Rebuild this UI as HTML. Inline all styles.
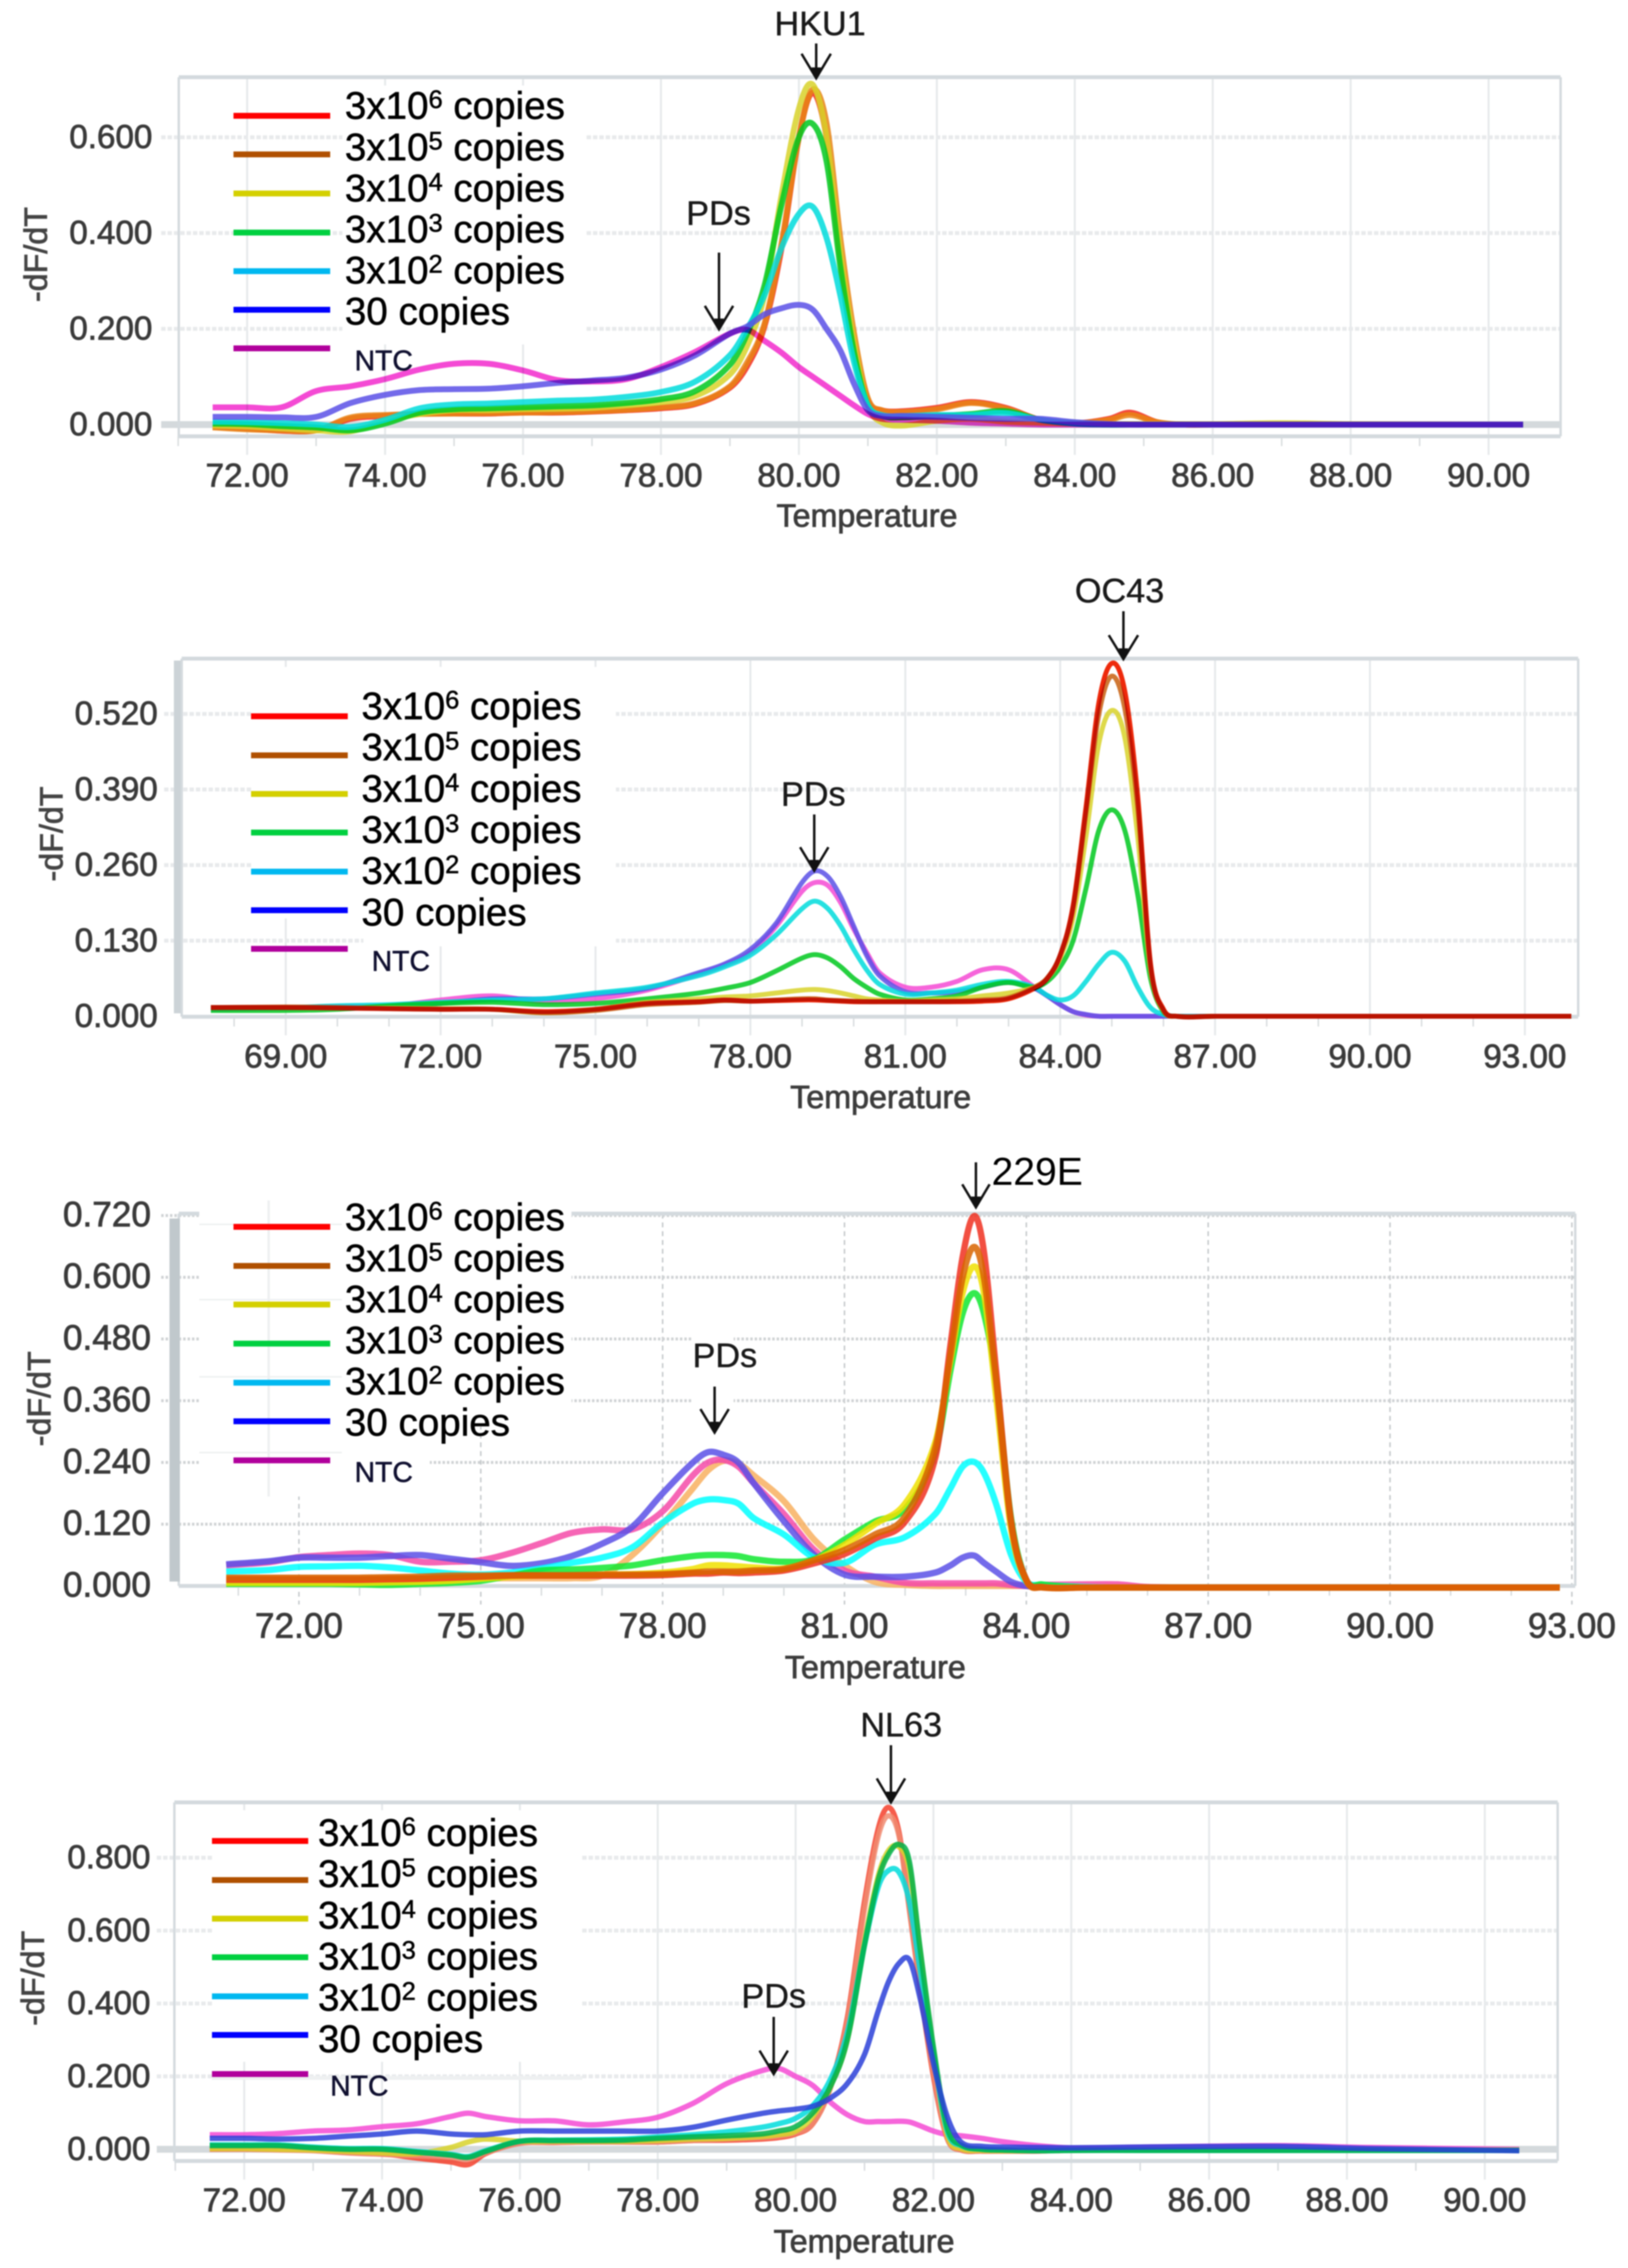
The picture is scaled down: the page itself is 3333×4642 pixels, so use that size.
<!DOCTYPE html>
<html lang="en">
<head>
<meta charset="utf-8">
<title>Melting curves HKU1 OC43 229E NL63</title>
<style>
html,body{margin:0;padding:0;background:#fff}
svg{display:block;filter:blur(1.4px)}
text{font-family:"Liberation Sans",sans-serif}
.leg{font-size:79px;fill:#000;stroke:#000;stroke-width:1px}
.ntc{font-size:58px;fill:#101030;stroke:#101030;stroke-width:1px}
.ann{font-size:70px;fill:#1a1a1a;stroke:#1a1a1a;stroke-width:.8px}
.ylab{font-size:66px;fill:#444;stroke:#444;stroke-width:1.5px;text-anchor:middle}
.xlab{font-size:66px;fill:#3c3c3c;stroke:#3c3c3c;stroke-width:1.5px;text-anchor:middle}
.arrow{fill:none;stroke:#111;stroke-width:5}
</style>
</head>
<body>
<svg id="figure" xmlns="http://www.w3.org/2000/svg" width="3333" height="4642" viewBox="0 0 3333 4642">
<rect x="0" y="0" width="3333" height="4642" fill="#fff"/>

<!-- PANEL 1 -->
<g id="p1">
<g id="p1-axes"></g>
<rect x="701" y="175" width="496" height="530" fill="#fff"/>
<text class="ylab" transform="translate(96,521) rotate(-90)">-dF/dT</text>
<text class="xlab" x="1775" y="1078">Temperature</text>
<g id="p1-curves"></g>
<g>
<line x1="478" x2="676" y1="237" y2="237" stroke="#ff0000" stroke-width="12"/>
<line x1="478" x2="676" y1="316" y2="316" stroke="#b05000" stroke-width="12"/>
<line x1="478" x2="676" y1="396" y2="396" stroke="#d4d000" stroke-width="12"/>
<line x1="478" x2="676" y1="476" y2="476" stroke="#00d040" stroke-width="12"/>
<line x1="478" x2="676" y1="555" y2="555" stroke="#00b8f0" stroke-width="12"/>
<line x1="478" x2="676" y1="634" y2="634" stroke="#0000ff" stroke-width="12"/>
<line x1="478" x2="676" y1="713" y2="713" stroke="#b0009c" stroke-width="12"/>
<text class="leg" x="706" y="243">3x10<tspan font-size="52" dy="-22">6</tspan><tspan dy="22"> copies</tspan></text>
<text class="leg" x="706" y="328">3x10<tspan font-size="52" dy="-22">5</tspan><tspan dy="22"> copies</tspan></text>
<text class="leg" x="706" y="412">3x10<tspan font-size="52" dy="-22">4</tspan><tspan dy="22"> copies</tspan></text>
<text class="leg" x="706" y="496">3x10<tspan font-size="52" dy="-22">3</tspan><tspan dy="22"> copies</tspan></text>
<text class="leg" x="706" y="580">3x10<tspan font-size="52" dy="-22">2</tspan><tspan dy="22"> copies</tspan></text>
<text class="leg" x="706" y="664">30 copies</text>
<text class="ntc" x="726" y="758">NTC</text>
</g>
<text class="ann" x="1679" y="72" text-anchor="middle">HKU1</text>
<path class="arrow" d="M1671 89V160M1641 110L1671 160L1701 110"/>
<path d="M1661 138L1671 160L1681 138Z" fill="#111"/>
<text class="ann" x="1471" y="460" text-anchor="middle">PDs</text>
<path class="arrow" d="M1472 517V674M1443 626L1472 674L1501 626"/>
<path d="M1462 652L1472 674L1482 652Z" fill="#111"/>
</g>

<!-- PANEL 2 -->
<g id="p2">
<g id="p2-axes"></g>
<rect x="356" y="1352" width="14" height="722" fill="#ccd3d7"/>
<rect x="515" y="1365" width="746" height="515" fill="#fff"/>
<rect x="744" y="1880" width="517" height="57" fill="#fff"/>
<text class="ylab" transform="translate(128,1707) rotate(-90)">-dF/dT</text>
<text class="xlab" x="1803" y="2268">Temperature</text>
<g id="p2-curves"></g>
<g>
<line x1="514" x2="712" y1="1466" y2="1466" stroke="#ff0000" stroke-width="12"/>
<line x1="514" x2="712" y1="1546" y2="1546" stroke="#b05000" stroke-width="12"/>
<line x1="514" x2="712" y1="1625" y2="1625" stroke="#d4d000" stroke-width="12"/>
<line x1="514" x2="712" y1="1704" y2="1704" stroke="#00d040" stroke-width="12"/>
<line x1="514" x2="712" y1="1784" y2="1784" stroke="#00b8f0" stroke-width="12"/>
<line x1="514" x2="712" y1="1863" y2="1863" stroke="#0000ff" stroke-width="12"/>
<line x1="514" x2="712" y1="1942" y2="1942" stroke="#b0009c" stroke-width="12"/>
<text class="leg" x="740" y="1472">3x10<tspan font-size="52" dy="-22">6</tspan><tspan dy="22"> copies</tspan></text>
<text class="leg" x="740" y="1556">3x10<tspan font-size="52" dy="-22">5</tspan><tspan dy="22"> copies</tspan></text>
<text class="leg" x="740" y="1641">3x10<tspan font-size="52" dy="-22">4</tspan><tspan dy="22"> copies</tspan></text>
<text class="leg" x="740" y="1725">3x10<tspan font-size="52" dy="-22">3</tspan><tspan dy="22"> copies</tspan></text>
<text class="leg" x="740" y="1809">3x10<tspan font-size="52" dy="-22">2</tspan><tspan dy="22"> copies</tspan></text>
<text class="leg" x="740" y="1894">30 copies</text>
<text class="ntc" x="761" y="1987">NTC</text>
</g>
<text class="ann" x="2292" y="1233" text-anchor="middle">OC43</text>
<path class="arrow" d="M2300 1251V1349M2270 1300L2300 1349L2330 1300"/>
<path d="M2290 1327L2300 1349L2310 1327Z" fill="#111"/>
<text class="ann" x="1665" y="1649" text-anchor="middle">PDs</text>
<path class="arrow" d="M1667 1667V1782M1638 1734L1667 1782L1696 1734"/>
<path d="M1657 1760L1667 1782L1677 1760Z" fill="#111"/>
</g>

<!-- PANEL 3 -->
<g id="p3">
<g id="p3-axes"></g>
<rect x="347" y="2494" width="21" height="743" fill="#c0c8cc"/>
<rect x="408" y="2457" width="762" height="463" fill="#fff"/>
<rect x="408" y="2920" width="472" height="143" fill="#fff"/>
<rect x="1416" y="2700" width="86" height="240" fill="#fff"/>
<line x1="550" x2="550" y1="2457" y2="3063" stroke="#eef0f1" stroke-width="5"/>
<line x1="408" x2="700" y1="2506" y2="2506" stroke="#eef0f1" stroke-width="3"/>
<line x1="408" x2="700" y1="2660" y2="2660" stroke="#eef0f1" stroke-width="3"/>
<line x1="408" x2="700" y1="2818" y2="2818" stroke="#eef0f1" stroke-width="3"/>
<line x1="408" x2="700" y1="2973" y2="2973" stroke="#eef0f1" stroke-width="3"/>
<text class="ylab" transform="translate(103,2863) rotate(-90)">-dF/dT</text>
<text class="xlab" x="1792" y="3435" font-size="68">Temperature</text>
<g id="p3-curves"></g>
<g>
<line x1="478" x2="676" y1="2511" y2="2511" stroke="#ff0000" stroke-width="12"/>
<line x1="478" x2="676" y1="2591" y2="2591" stroke="#b05000" stroke-width="12"/>
<line x1="478" x2="676" y1="2670" y2="2670" stroke="#d4d000" stroke-width="12"/>
<line x1="478" x2="676" y1="2750" y2="2750" stroke="#00d040" stroke-width="12"/>
<line x1="478" x2="676" y1="2830" y2="2830" stroke="#00b8f0" stroke-width="12"/>
<line x1="478" x2="676" y1="2909" y2="2909" stroke="#0000ff" stroke-width="12"/>
<line x1="478" x2="676" y1="2989" y2="2989" stroke="#b0009c" stroke-width="12"/>
<text class="leg" x="706" y="2518">3x10<tspan font-size="52" dy="-22">6</tspan><tspan dy="22"> copies</tspan></text>
<text class="leg" x="706" y="2602">3x10<tspan font-size="52" dy="-22">5</tspan><tspan dy="22"> copies</tspan></text>
<text class="leg" x="706" y="2686">3x10<tspan font-size="52" dy="-22">4</tspan><tspan dy="22"> copies</tspan></text>
<text class="leg" x="706" y="2770">3x10<tspan font-size="52" dy="-22">3</tspan><tspan dy="22"> copies</tspan></text>
<text class="leg" x="706" y="2854">3x10<tspan font-size="52" dy="-22">2</tspan><tspan dy="22"> copies</tspan></text>
<text class="leg" x="706" y="2938">30 copies</text>
<text class="ntc" x="726" y="3033">NTC</text>
</g>
<text x="2030" y="2425" font-size="80" fill="#000">229E</text>
<path class="arrow" d="M1998 2379V2471M1970 2424L1998 2471L2026 2424"/>
<path d="M1988 2449L1998 2471L2008 2449Z" fill="#111"/>
<text class="ann" x="1484" y="2798" text-anchor="middle">PDs</text>
<path class="arrow" d="M1463 2838V2932M1434 2884L1463 2932L1492 2884"/>
<path d="M1453 2910L1463 2932L1473 2910Z" fill="#111"/>
</g>

<!-- PANEL 4 -->
<g id="p4">
<g id="p4-axes"></g>
<rect x="434" y="3705" width="758" height="515" fill="#fff"/>
<line x1="434" x2="1192" y1="4253" y2="4253" stroke="#eef0f1" stroke-width="8"/>
<text class="ylab" transform="translate(90,4049) rotate(-90)">-dF/dT</text>
<text class="xlab" x="1769" y="4610">Temperature</text>
<g id="p4-curves"></g>
<g>
<line x1="434" x2="631" y1="3768" y2="3768" stroke="#ff0000" stroke-width="12"/>
<line x1="434" x2="631" y1="3848" y2="3848" stroke="#b05000" stroke-width="12"/>
<line x1="434" x2="631" y1="3927" y2="3927" stroke="#d4d000" stroke-width="12"/>
<line x1="434" x2="631" y1="4006" y2="4006" stroke="#00d040" stroke-width="12"/>
<line x1="434" x2="631" y1="4086" y2="4086" stroke="#00b8f0" stroke-width="12"/>
<line x1="434" x2="631" y1="4165" y2="4165" stroke="#0000ff" stroke-width="12"/>
<line x1="434" x2="631" y1="4245" y2="4245" stroke="#b0009c" stroke-width="12"/>
<text class="leg" x="651" y="3778">3x10<tspan font-size="52" dy="-22">6</tspan><tspan dy="22"> copies</tspan></text>
<text class="leg" x="651" y="3862">3x10<tspan font-size="52" dy="-22">5</tspan><tspan dy="22"> copies</tspan></text>
<text class="leg" x="651" y="3947">3x10<tspan font-size="52" dy="-22">4</tspan><tspan dy="22"> copies</tspan></text>
<text class="leg" x="651" y="4031">3x10<tspan font-size="52" dy="-22">3</tspan><tspan dy="22"> copies</tspan></text>
<text class="leg" x="651" y="4115">3x10<tspan font-size="52" dy="-22">2</tspan><tspan dy="22"> copies</tspan></text>
<text class="leg" x="651" y="4200">30 copies</text>
<text class="ntc" x="676" y="4289">NTC</text>
</g>
<text class="ann" x="1845" y="3554" text-anchor="middle">NL63</text>
<path class="arrow" d="M1824 3572V3689M1795 3640L1824 3689L1853 3640"/>
<path d="M1814 3667L1824 3689L1834 3667Z" fill="#111"/>
<text class="ann" x="1584" y="4109" text-anchor="middle">PDs</text>
<path class="arrow" d="M1584 4128V4245M1555 4197L1584 4245L1613 4197"/>
<path d="M1574 4223L1584 4245L1594 4223Z" fill="#111"/>
</g>
</svg>

<script>
// ---------- HKU1 data ----------
const hku1Temps = [71.5,72,72.5,73,73.5,74,74.5,75,75.5,76,
  76.5,77,77.5,78,78.5,79,79.25,79.5,79.75,80,
  80.2,80.4,80.6,80.8,81,81.2,81.5,82,82.5,83,
  83.5,84,84.5,84.8,85.2,85.6,86,87,88,90.5];
const hku1Red = [-.004,-.008,-.013,-.012,.012,.018,.023,.023,.023,.025,
  .025,.027,.03,.034,.043,.077,.122,.205,.37,.6,
  .693,.6,.353,.17,.05,.03,.028,.035,.047,.035,
  .01,.003,.012,.025,.005,0,0,0,0,0];
const hku1Brown = [-.006,-.01,-.012,-.012,.015,.02,.022,.023,.024,.025,
  .026,.028,.031,.036,.045,.08,.13,.21,.38,.6,
  .70,.63,.39,.19,.055,.03,.026,.032,.045,.033,
  .01,.003,.01,.02,.005,0,0,0,0,0];
const hku1Yellow = [-.002,-.004,-.008,-.012,-.014,.008,.022,.03,.03,.032,
  .033,.035,.04,.047,.06,.105,.165,.27,.48,.66,
  .71,.6,.36,.17,.04,.005,-.002,.008,.012,.006,
  .004,.002,.001,.001,.001,.001,.001,.003,.001,0];
const hku1Green = [.002,.001,-.003,-.006,-.012,.002,.025,.032,.034,.036,
  .038,.04,.045,.053,.07,.125,.19,.29,.46,.6,
  .628,.55,.33,.15,.04,.018,.015,.018,.022,.028,
  .01,.003,0,0,0,0,0,0,0,0];
const hku1Cyan = [.006,.005,.003,0,-.005,.01,.034,.042,.044,.047,
  .05,.052,.058,.068,.09,.145,.2,.27,.37,.44,
  .455,.39,.27,.13,.04,.02,.018,.02,.02,.024,
  .01,.002,0,0,0,0,0,0,0,0];
const hku1Blue = [.016,.016,.015,.016,.045,.062,.072,.074,.075,.08,
  .087,.092,.098,.115,.145,.19,.205,.23,.243,.25,
  .24,.2,.155,.085,.03,.018,.018,.016,.014,.012,
  .012,.005,.001,0,0,0,0,0,0,0];
const hku1Ntc = [.036,.036,.036,.07,.08,.095,.115,.127,.127,.113,
  .093,.09,.095,.12,.152,.19,.198,.175,.15,.12,
  .1,.08,.06,.04,.022,.012,.01,.008,.004,.002,
  0,0,0,0,0,0,0,0,0,0];
const hku1XTicks = [72,74,76,78,80,82,84,86,88,90];
const hku1YTicks = [0,.2,.4,.6];

// ---------- OC43 data ----------
const oc43Temps = [67.55,69,70,71,72,73,74,75,76,77,
  77.5,78,78.5,79,79.25,79.5,79.75,80,80.25,80.5,
  81,81.5,82,82.5,83,83.5,83.75,84,84.25,84.5,
  84.75,85,85.25,85.5,85.75,86,86.25,87,90,93.9];
const oc43Red = [.015,.015,.014,.013,.012,.012,.008,.012,.022,.025,
  .028,.026,.027,.028,.028,.027,.026,.025,.025,.025,
  .025,.025,.025,.026,.03,.048,.065,.105,.19,.36,
  .54,.607,.56,.38,.09,.012,0,0,0,0];
const oc43Brown = [.015,.016,.015,.013,.012,.012,.006,.01,.02,.024,
  .027,.026,.028,.03,.03,.028,.027,.026,.025,.025,
  .025,.025,.026,.028,.032,.05,.066,.105,.185,.35,
  .52,.585,.53,.36,.085,.01,0,0,0,0];
const oc43Yellow = [.015,.015,.014,.014,.013,.012,.006,.012,.024,.03,
  .033,.035,.04,.045,.046,.044,.04,.035,.03,.028,
  .026,.028,.03,.035,.04,.05,.065,.1,.17,.31,
  .47,.526,.48,.31,.08,.01,0,0,0,0];
const oc43Green = [.01,.01,.012,.018,.022,.024,.02,.022,.03,.04,
  .048,.058,.078,.1,.106,.1,.085,.065,.05,.038,
  .028,.03,.035,.05,.058,.05,.06,.085,.13,.22,
  .32,.355,.32,.21,.065,.008,0,0,0,0];
const oc43Cyan = [.015,.015,.018,.02,.024,.028,.03,.04,.05,.07,
  .085,.105,.14,.185,.198,.185,.155,.115,.08,.055,
  .038,.04,.045,.055,.06,.05,.036,.028,.035,.06,
  .09,.11,.095,.05,.015,.003,0,0,0,0];
const oc43Blue = [.012,.014,.015,.016,.022,.03,.03,.038,.048,.075,
  .09,.115,.16,.23,.25,.24,.205,.155,.105,.07,
  .042,.04,.042,.05,.058,.048,.035,.02,.008,.003,
  0,0,0,0,0,0,0,0,0,0];
const oc43Ntc = [.015,.015,.017,.018,.028,.035,.025,.03,.045,.072,
  .088,.11,.155,.215,.23,.225,.195,.15,.11,.075,
  .05,.05,.06,.08,.08,.05,.035,.02,.008,.002,
  0,0,0,0,0,0,0,0,0,0];
const oc43XTicks = [69,72,75,78,81,84,87,90,93];
const oc43YTicks = [0,.13,.26,.39,.52];

// ---------- 229E data ----------
const e229Temps = [70.8,71.5,72,72.5,73,73.5,74,74.5,75,75.5,
  76,76.5,77,77.5,78,78.5,78.75,79,79.25,79.5,
  80,80.5,81,81.5,82,82.5,82.75,82.95,83.14,83.3,
  83.5,83.75,84,84.25,85,85.5,86,87,90,92.8];
const e229Red = [.012,.012,.012,.012,.012,.013,.014,.016,.018,.02,
  .02,.02,.02,.02,.021,.024,.024,.026,.025,.026,
  .03,.044,.062,.092,.125,.25,.47,.64,.719,.65,
  .42,.125,.012,-.002,-.003,-.003,-.003,-.003,-.003,-.003];
const e229Brown = [.016,.016,.016,.016,.016,.017,.018,.02,.02,.021,
  .021,.021,.022,.022,.023,.026,.028,.028,.028,.03,
  .033,.05,.07,.1,.135,.27,.45,.6,.659,.6,
  .4,.12,.01,-.003,-.003,-.003,-.003,-.003,-.003,-.003];
const e229Yellow = [.006,.006,.006,.006,.006,.007,.008,.01,.014,.018,
  .02,.02,.022,.023,.026,.033,.04,.04,.038,.036,
  .034,.05,.08,.12,.16,.28,.44,.57,.621,.57,
  .37,.11,.01,-.002,-.003,-.003,-.003,-.003,-.003,-.003];
const e229Green = [.004,.004,.004,.004,.003,.002,.004,.006,.01,.02,
  .03,.032,.035,.04,.05,.058,.06,.06,.058,.052,
  .047,.052,.09,.125,.15,.26,.42,.53,.569,.53,
  .4,.13,.012,.003,-.003,-.003,-.003,-.003,-.003,-.003];
const e229Cyan = [.028,.031,.037,.038,.039,.036,.03,.024,.022,.026,
  .034,.045,.055,.075,.123,.16,.168,.167,.16,.132,
  .1,.055,.045,.08,.095,.14,.19,.232,.241,.22,
  .16,.06,.008,.002,-.002,-.003,-.003,-.003,-.003,-.003];
const e229Blue = [.042,.048,.055,.055,.055,.058,.06,.053,.046,.039,
  .044,.058,.082,.115,.18,.24,.26,.255,.24,.2,
  .126,.06,.022,.018,.018,.026,.04,.055,.059,.045,
  .028,.008,0,-.002,-.003,-.003,-.003,-.003,-.003,-.003];
const e229Ntc = [.04,.046,.056,.06,.063,.06,.047,.047,.05,.064,
  .083,.103,.11,.11,.145,.215,.24,.245,.232,.2,
  .14,.07,.03,.018,.006,.005,.005,.005,.005,.005,
  .005,.002,0,.002,.003,.003,-.002,-.003,-.003,-.003];
const e229Replicate = [.015,.015,.015,.015,.015,.015,.015,.015,.015,.015,
  .015,.015,.02,.06,.12,.19,.225,.243,.238,.215,
  .165,.09,.04,.008,.002,0,0,0,0,0,
  0,0,0,-.002,-.003,-.003,-.003,-.003,-.003,-.003];
const e229XTicks = [72,75,78,81,84,87,90,93];
const e229YTicks = [0,.12,.24,.36,.48,.6,.72];

// ---------- NL63 data ----------
const nl63Temps = [71.5,72,72.5,73,73.5,74,74.5,75,75.25,75.5,
  76,76.5,77,77.5,78,78.5,79,79.5,79.75,80,
  80.25,80.5,80.75,81,81.2,81.35,81.5,81.65,81.8,82,
  82.2,82.4,82.7,83,83.5,84,85,87,88.3,90.5];
const nl63Red = [0,0,0,-.002,-.008,-.012,-.024,-.035,-.042,-.012,
  .018,.02,.02,.02,.02,.024,.025,.028,.032,.042,
  .07,.17,.36,.68,.88,.938,.87,.66,.45,.2,
  .03,-.002,-.005,-.005,-.005,-.002,-.002,-.002,-.002,-.002];
const nl63Brown = [0,0,-.002,-.004,-.01,-.014,-.018,-.022,-.028,-.01,
  .016,.018,.02,.02,.02,.024,.028,.032,.036,.045,
  .07,.165,.35,.66,.86,.915,.86,.66,.46,.21,
  .03,-.002,-.005,-.005,-.005,-.003,-.002,-.002,-.002,-.002];
const nl63Yellow = [.002,.002,0,-.002,-.006,-.01,-.012,.005,.02,.028,
  .022,.022,.022,.022,.024,.028,.03,.035,.04,.05,
  .09,.17,.3,.57,.75,.82,.83,.77,.55,.27,
  .04,.002,-.003,-.004,-.004,-.003,-.002,-.002,-.002,-.002];
const nl63Green = [.01,.01,.01,.004,0,0,-.008,-.016,-.022,-.006,
  .022,.024,.024,.025,.03,.034,.037,.042,.05,.062,
  .1,.17,.3,.56,.74,.81,.836,.79,.56,.28,
  .06,.012,0,-.002,-.004,-.003,-.003,-.003,-.003,-.003];
const nl63Cyan = [.012,.012,.012,.006,.002,.002,-.006,-.014,-.02,-.004,
  .022,.025,.026,.028,.034,.04,.048,.06,.07,.085,
  .12,.19,.32,.56,.72,.765,.76,.68,.5,.26,
  .05,.01,0,-.002,-.004,-.003,-.003,-.003,-.003,-.003];
const nl63Blue = [.03,.03,.028,.03,.036,.042,.05,.042,.04,.04,
  .05,.05,.05,.05,.05,.06,.08,.098,.105,.11,
  .118,.14,.18,.26,.38,.46,.51,.52,.42,.236,
  .09,.02,.008,.006,.005,.004,.006,.008,.002,-.004];
const nl63Ntc = [.04,.04,.043,.05,.053,.062,.07,.09,.099,.09,
  .078,.078,.067,.075,.088,.125,.18,.215,.222,.2,
  .175,.13,.095,.076,.076,.076,.077,.075,.065,.05,
  .04,.037,.03,.021,.01,.004,.006,.01,.005,0];
const nl63XTicks = [72,74,76,78,80,82,84,86,88,90];
const nl63YTicks = [0,.2,.4,.6,.8];

const NS = 'http://www.w3.org/2000/svg';
const RED='#f22a1c', YELLOW='#d8d22a', GREEN='#00c81e', CYAN='#00dcdc', BLUE='#5a50e6', PINK='#f44ad4';

const panels = [
 {id:'p1', tRef:72, xRef:506, ppd:141.2, y0:869, ppv:980, L:366, R:3195, T:158, B:893, lblRight:312, xLblY:996, tickFont:68,
  temps:hku1Temps, xTicks:hku1XTicks, yTicks:hku1YTicks, minorFrom:71, minorTo:90, sw:12, dashed:false, zeroBand:true,
  series:[['red',hku1Red,RED],['brown',hku1Brown,'#e88414'],['yellow',hku1Yellow,YELLOW],['green',hku1Green,GREEN],['cyan',hku1Cyan,CYAN],['blue',hku1Blue,BLUE],['ntc',hku1Ntc,PINK,'multiply']]},
 {id:'p2', tRef:69, xRef:585, ppd:105.7, y0:2080, ppv:1190, L:372, R:3231, T:1348, B:2081, lblRight:323, xLblY:2185, tickFont:68,
  temps:oc43Temps, xTicks:oc43XTicks, yTicks:oc43YTicks, minorFrom:68, minorTo:93, sw:10, dashed:false, zeroBand:false,
  series:[['ntc',oc43Ntc,PINK],['blue',oc43Blue,BLUE],['cyan',oc43Cyan,CYAN],['green',oc43Green,GREEN],['yellow',oc43Yellow,YELLOW],['brown',oc43Brown,'#c86010'],['red',oc43Red,'#ee2a0c','multiply']]},
 {id:'p3', tRef:72, xRef:612, ppd:124.1, y0:3246, ppv:1053, L:366, R:3225, T:2484, B:3246, lblRight:309, xLblY:3352, tickFont:72,
  temps:e229Temps, xTicks:e229XTicks, yTicks:e229YTicks, minorFrom:71, minorTo:93, sw:13, dashed:true, zeroBand:false,
  series:[['replicate',e229Replicate,'#f8b060'],['ntc',e229Ntc,'#f44aa8'],['blue',e229Blue,BLUE],['cyan',e229Cyan,'#00ffff'],['green',e229Green,'#10e830'],['yellow',e229Yellow,'#f0e000'],['red',e229Red,'#f03020'],['brown',e229Brown,'#d86400']]},
 {id:'p4', tRef:72, xRef:500, ppd:141.1, y0:4399, ppv:746, L:357, R:3189, T:3689, B:4423, lblRight:308, xLblY:4526, tickFont:68,
  temps:nl63Temps, xTicks:nl63XTicks, yTicks:nl63YTicks, minorFrom:71, minorTo:90, sw:11, dashed:false, zeroBand:true,
  series:[['ntc',nl63Ntc,PINK],['red',nl63Red,'#f4402c'],['brown',nl63Brown,'#f08a70'],['yellow',nl63Yellow,YELLOW],['cyan',nl63Cyan,CYAN],['green',nl63Green,'#00b048'],['blue',nl63Blue,'#2a40d8']]}
];

function xScale(p, t){ return p.xRef + p.ppd * (t - p.tRef); }
function yScale(p, v){ return p.y0 - p.ppv * v; }

function curvePath(p, temps, vals){
  const xs = temps.map(function(t){ return xScale(p, t); });
  const ys = vals.map(function(v){ return yScale(p, v); });
  const n = xs.length;
  const m = [];
  for (let i = 0; i < n; i++){
    const a = Math.max(0, i - 1), b = Math.min(n - 1, i + 1);
    m.push((ys[b] - ys[a]) / (xs[b] - xs[a]));
  }
  let d = 'M' + xs[0].toFixed(1) + ' ' + ys[0].toFixed(1);
  for (let i = 0; i < n - 1; i++){
    const h = xs[i + 1] - xs[i];
    d += 'C' + (xs[i] + h / 3).toFixed(1) + ' ' + (ys[i] + m[i] * h / 3).toFixed(1) + ' ' +
         (xs[i + 1] - h / 3).toFixed(1) + ' ' + (ys[i + 1] - m[i + 1] * h / 3).toFixed(1) + ' ' +
         xs[i + 1].toFixed(1) + ' ' + ys[i + 1].toFixed(1);
  }
  return d;
}

function addLine(parent, x1, y1, x2, y2, color, width, dash){
  const el = document.createElementNS(NS, 'line');
  el.setAttribute('x1', x1); el.setAttribute('y1', y1);
  el.setAttribute('x2', x2); el.setAttribute('y2', y2);
  el.setAttribute('stroke', color); el.setAttribute('stroke-width', width);
  if (dash) el.setAttribute('stroke-dasharray', dash);
  parent.appendChild(el);
  return el;
}

panels.forEach(function(p){
  const axes = document.getElementById(p.id + '-axes');
  const curves = document.getElementById(p.id + '-curves');
  const frameColor = '#d4dade';

  // vertical grid lines and x ticks
  for (let t = p.minorFrom; t <= p.minorTo; t++){
    const isMajor = p.xTicks.indexOf(t) >= 0;
    const x = xScale(p, t);
    if (isMajor){
      const g = addLine(axes, x, p.T, x, p.B + 38, p.dashed ? '#c4c8ca' : '#e6e9eb', p.dashed ? 3 : 4, p.dashed ? '10 8' : null);
      
      
    } else {
      const k = addLine(axes, x, p.B, x, p.B + 20, '#d8dcde', 3);
      
      
    }
  }
  // horizontal grid lines
  p.yTicks.forEach(function(v){
    const y = yScale(p, v);
    if (v === 0) return;
    const g = addLine(axes, p.L - 36, y, p.R, y, p.dashed ? '#cfd2d4' : '#e8eaec', p.dashed ? 6 : 8, p.dashed ? '5 4' : '9 4');
    
    
  });
  if (p.zeroBand){
    const z = addLine(axes, p.L - 36, yScale(p, 0), p.R, yScale(p, 0), '#d4d9dc', 14);
    
    
  }
  // frame
  const f1 = addLine(axes, p.L, p.T, p.R, p.T, frameColor, 8);
  
  
  const f2 = addLine(axes, p.L, p.B, p.R, p.B, frameColor, 8);
  
  
  const f3 = addLine(axes, p.L, p.T, p.L, p.B, frameColor, 5);
  
  
  const f4 = addLine(axes, p.R, p.T, p.R, p.B, frameColor, 5);
  
  

  // tick labels
  p.xTicks.forEach(function(t){
    const el = document.createElementNS(NS, 'text');
    el.setAttribute('x', xScale(p, t));
    el.setAttribute('y', p.xLblY);
    el.setAttribute('text-anchor', 'middle');
    el.setAttribute('font-size', p.tickFont);
    el.setAttribute('fill', '#3a3a3a');
    el.setAttribute('stroke', '#3a3a3a');
    el.setAttribute('stroke-width', '1.5');
    
    
    el.textContent = t.toFixed(2);
    axes.appendChild(el);
  });
  p.yTicks.forEach(function(v){
    const el = document.createElementNS(NS, 'text');
    el.setAttribute('x', p.lblRight);
    el.setAttribute('y', yScale(p, v) + 22);
    el.setAttribute('text-anchor', 'end');
    el.setAttribute('font-size', p.tickFont);
    el.setAttribute('fill', '#3a3a3a');
    el.setAttribute('stroke', '#3a3a3a');
    el.setAttribute('stroke-width', '1.5');
    
    
    el.textContent = v.toFixed(3);
    axes.appendChild(el);
  });

  // curves
  p.series.forEach(function(s){
    const path = document.createElementNS(NS, 'path');
    path.setAttribute('d', curvePath(p, p.temps, s[1]));
    path.setAttribute('fill', 'none');
    path.setAttribute('stroke', s[2]);
    path.setAttribute('stroke-width', p.sw);
    path.setAttribute('stroke-linejoin', 'round');
    path.setAttribute('stroke-opacity', s[3] ? '1' : '0.85');
    if (s[3]) path.style.mixBlendMode = s[3];
    
    
    curves.appendChild(path);
  });
});
</script>
</body>
</html>
